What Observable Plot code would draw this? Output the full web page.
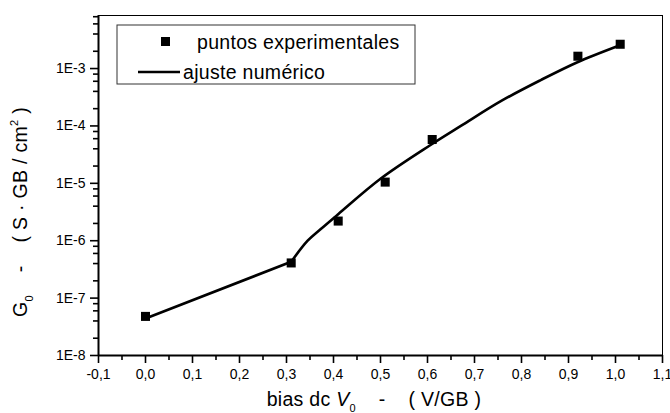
<!DOCTYPE html>
<html>
<head>
<meta charset="utf-8">
<script src="https://cdn.jsdelivr.net/npm/d3@7"></script>
<script src="https://cdn.jsdelivr.net/npm/@observablehq/plot@0.6"></script>
<style>
  body { margin: 0; background: white; }
  #chart { width: 670px; height: 413px; }
</style>
</head>
<body>
<div id="chart"></div>
<script>
// Experimental points
const expBias = [0.0, 0.31, 0.41, 0.51, 0.61, 0.92, 1.01];
const expG    = [4.8e-8, 4.1e-7, 2.2e-6, 1.05e-5, 5.8e-5, 1.64e-3, 2.65e-3];

// Numerical fit curve
const fitBias = [0.0, 0.31, 0.345, 0.373, 0.41, 0.5, 0.609, 0.671, 0.756, 0.841, 0.919, 1.004];
const fitG    = [4.4e-8, 4.3e-7, 1.0e-6, 1.6e-6, 2.9e-6, 1.2e-5, 4.8e-5, 1.0e-4, 2.7e-4, 6.3e-4, 1.29e-3, 2.45e-3];

// Axis ticks
const xMajor = [-0.1, 0.0, 0.1, 0.2, 0.3, 0.4, 0.5, 0.6, 0.7, 0.8, 0.9, 1.0, 1.1];
const xMinor = [-0.05, 0.05, 0.15, 0.25, 0.35, 0.45, 0.55, 0.65, 0.75, 0.85, 0.95, 1.05];
const yMajor = [1e-8, 1e-7, 1e-6, 1e-5, 1e-4, 1e-3];
const yMinorMult = [2, 4, 6, 8];

const legendLabels = ["puntos experimentales", "ajuste numérico"];

const expData = expBias.map((x, i) => ({x, y: expG[i]}));
const fitData = fitBias.map((x, i) => ({x, y: fitG[i]}));
const fitLow = fitData.filter(d => d.x <= 0.31);
const fitHigh = fitData.filter(d => d.x >= 0.31);
const yTop = 8.4e-3;
const yMinor = [];
for (const d of yMajor) for (const m of yMinorMult) if (d * m <= yTop) yMinor.push(d * m);

const font = "'Liberation Sans', Arial, Helvetica, sans-serif";

const plot = Plot.plot({
  width: 670,
  height: 413,
  marginLeft: 98,
  marginRight: 8,
  marginTop: 15,
  marginBottom: 58,
  style: {fontFamily: font, fontSize: "14px", background: "white", color: "black"},
  x: {domain: [-0.1, 1.1]},
  y: {type: "log", domain: [1e-8, yTop]},
  marks: [
    Plot.frame({stroke: "black", strokeWidth: 1}),
    Plot.axisY(yMajor, {tickSize: 8, tickPadding: 5, strokeWidth: 1.6, fontSize: 14,
      tickFormat: d => "1E" + Math.round(Math.log10(d)), label: null}),
    Plot.axisY(yMinor, {tickSize: 5, strokeWidth: 1.6, tickFormat: () => "", label: null}),
    Plot.axisX(xMajor, {tickSize: 8, tickPadding: 6, strokeWidth: 1.6, fontSize: 14,
      tickFormat: d => d.toFixed(1).replace(".", ","), label: null}),
    Plot.axisX(xMinor, {tickSize: 5, strokeWidth: 1.6, tickFormat: () => "", label: null}),
    Plot.ruleX([-0.1], {stroke: "black", strokeWidth: 2}),
    Plot.ruleY([1e-8], {stroke: "black", strokeWidth: 2}),
    Plot.line(fitLow, {x: "x", y: "y", stroke: "black", strokeWidth: 2.6}),
    Plot.line(fitHigh, {x: "x", y: "y", stroke: "black", strokeWidth: 2.6, curve: "catmull-rom"}),
    Plot.dot(expData, {x: "x", y: "y", symbol: "square", fill: "black", stroke: "none", r: 5.1})
  ]
});

document.getElementById("chart").appendChild(plot);

const svg = d3.select(plot);

// Legend box
const lg = svg.append("g").attr("font-family", font).attr("font-size", 19.5)
  .attr("fill", "black").attr("text-anchor", "start").attr("letter-spacing", 0.3);
lg.append("rect").attr("x", 117).attr("y", 25).attr("width", 298).attr("height", 59)
  .attr("fill", "white").attr("stroke", "#333").attr("stroke-width", 1);
lg.append("rect").attr("x", 161).attr("y", 37).attr("width", 9).attr("height", 9).attr("fill", "black");
lg.append("text").attr("x", 197).attr("y", 42).attr("dy", "0.35em").text(legendLabels[0]);
lg.append("line").attr("x1", 138).attr("x2", 180).attr("y1", 72).attr("y2", 72)
  .attr("stroke", "black").attr("stroke-width", 2.6);
lg.append("text").attr("x", 183).attr("y", 72).attr("dy", "0.35em").text(legendLabels[1]);

// X axis title
const xt = svg.append("text").attr("x", 374).attr("y", 406).attr("text-anchor", "middle")
  .attr("font-family", font).attr("font-size", 19.5).attr("letter-spacing", 0.3)
  .attr("fill", "black").style("white-space", "pre");
xt.append("tspan").text("bias dc ");
xt.append("tspan").attr("font-style", "italic").text("V");
xt.append("tspan").attr("font-size", 11).attr("dy", 6).text("0");
xt.append("tspan").attr("dy", -6).text("    -    ( V/GB )");

// Y axis title
const yt = svg.append("text").attr("transform", "translate(27,212) rotate(-90)").attr("text-anchor", "middle")
  .attr("font-family", font).attr("font-size", 19.5).attr("letter-spacing", 0.3)
  .attr("fill", "black").style("white-space", "pre");
yt.append("tspan").text("G");
yt.append("tspan").attr("font-size", 11).attr("dy", 6).text("0");
yt.append("tspan").attr("dy", -6).text("    -    ( S · GB / cm");
yt.append("tspan").attr("font-size", 11).attr("dy", -9).text("2");
yt.append("tspan").attr("dy", 9).text(" )");
</script>
</body>
</html>
